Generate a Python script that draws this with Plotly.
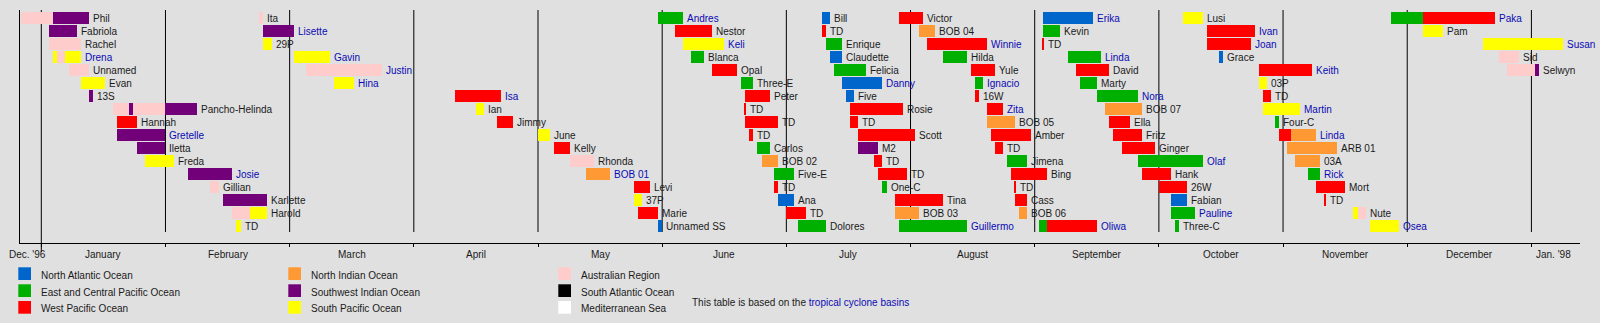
import calendar
import plotly.graph_objects as go

# ---------------- data ----------------
basin_keys = ["NATL", "EPAC", "WPAC", "NIO", "SWIO", "SPAC", "AUS", "SATL", "MED"]
basin_names = ["North Atlantic Ocean", "East and Central Pacific Ocean", "West Pacific Ocean",
               "North Indian Ocean", "Southwest Indian Ocean", "South Pacific Ocean",
               "Australian Region", "South Atlantic Ocean", "Mediterranean Sea"]
basin_colors = ["#0066cc", "#00b000", "#ff0000", "#ff9933", "#720078", "#ffff00",
                "#ffcccc", "#000000", "#ffffff"]

month_labels = ["Dec. '96", "January", "February", "March", "April", "May", "June", "July",
                "August", "September", "October", "November", "December", "Jan. '98"]

storm_names = [
    # row 1
    "Phil", "Ita", "Andres", "Bill", "Victor", "Erika", "Lusi", "Paka",
    # row 2
    "Fabriola", "Lisette", "Nestor", "TD", "BOB 04", "Kevin", "Ivan", "Pam",
    # row 3
    "Rachel", "29P", "Keli", "Enrique", "Winnie", "TD", "Joan", "Susan",
    # row 4
    "Drena", "Gavin", "Blanca", "Claudette", "Hilda", "Linda", "Grace", "Sid",
    # row 5
    "Unnamed", "Justin", "Opal", "Felicia", "Yule", "David", "Keith", "Selwyn",
    # row 6
    "Evan", "Hina", "Three-E", "Danny", "Ignacio", "Marty", "03P",
    # row 7
    "13S", "Isa", "Peter", "Five", "16W", "Nora", "TD",
    # row 8
    "Pancho-Helinda", "Ian", "TD", "Rosie", "Zita", "BOB 07", "Martin",
    # row 9
    "Hannah", "Jimmy", "TD", "TD", "BOB 05", "Ella", "Four-C",
    # row 10
    "Gretelle", "June", "TD", "Scott", "Amber", "Fritz", "Linda",
    # row 11
    "Iletta", "Kelly", "Carlos", "M2", "TD", "Ginger", "ARB 01",
    # row 12
    "Freda", "Rhonda", "BOB 02", "TD", "Jimena", "Olaf", "03A",
    # row 13
    "Josie", "BOB 01", "Five-E", "TD", "Bing", "Hank", "Rick",
    # row 14
    "Gillian", "Levi", "TD", "One-C", "TD", "26W", "Mort",
    # row 15
    "Karlette", "37P", "Ana", "Tina", "Cass", "Fabian", "TD",
    # row 16
    "Harold", "Marie", "TD", "BOB 03", "BOB 06", "Pauline", "Nute",
    # row 17
    "TD", "Unnamed SS", "Dolores", "Guillermo", "Oliwa", "Three-C", "Osea",
]

storm_rows = ([1] * 8 + [2] * 8 + [3] * 8 + [4] * 8 + [5] * 8 + [6] * 7 + [7] * 7 + [8] * 7 +
              [9] * 7 + [10] * 7 + [11] * 7 + [12] * 7 + [13] * 7 + [14] * 7 + [15] * 7 +
              [16] * 7 + [17] * 7)

linked_names = {"Andres", "Erika", "Paka", "Lisette", "Ivan", "Keli", "Winnie", "Joan",
                "Susan", "Drena", "Gavin", "Linda", "Justin", "Keith", "Hina", "Danny",
                "Ignacio", "Isa", "Nora", "Zita", "Martin", "Gretelle", "Olaf", "Josie",
                "BOB 01", "Rick", "Pauline", "Guillermo", "Oliwa", "Osea"}

storm_segments = [
    # row 1
    [("1996-12-27", "1997-01-04", "AUS"), ("1997-01-04", "1997-01-13", "SWIO")],
    [("1997-02-22", "1997-02-23", "AUS")],
    [("1997-05-31", "1997-06-06", "EPAC")],
    [("1997-07-10", "1997-07-12", "NATL")],
    [("1997-07-29", "1997-08-04", "WPAC")],
    [("1997-09-03", "1997-09-15", "NATL")],
    [("1997-10-07", "1997-10-12", "SPAC")],
    [("1997-11-27", "1997-12-05", "EPAC"), ("1997-12-05", "1997-12-23", "WPAC")],
    # row 2
    [("1997-01-03", "1997-01-10", "SWIO")],
    [("1997-02-23", "1997-03-02", "SWIO")],
    [("1997-06-04", "1997-06-13", "WPAC")],
    [("1997-07-10", "1997-07-11", "WPAC")],
    [("1997-08-03", "1997-08-07", "NIO")],
    [("1997-09-03", "1997-09-07", "EPAC")],
    [("1997-10-13", "1997-10-25", "WPAC")],
    [("1997-12-05", "1997-12-10", "SPAC")],
    # row 3
    [("1997-01-03", "1997-01-11", "AUS")],
    [("1997-02-23", "1997-02-25", "SPAC")],
    [("1997-06-06", "1997-06-16", "SPAC")],
    [("1997-07-11", "1997-07-15", "EPAC")],
    [("1997-08-05", "1997-08-20", "WPAC")],
    [("1997-09-03", "1997-09-03", "WPAC")],
    [("1997-10-13", "1997-10-24", "WPAC")],
    [("1997-12-20", "1998-01-09", "SPAC")],
    # row 4
    [("1997-01-04", "1997-01-05", "SPAC"), ("1997-01-05", "1997-01-07", "AUS"),
     ("1997-01-07", "1997-01-11", "SPAC")],
    [("1997-03-02", "1997-03-11", "SPAC")],
    [("1997-06-08", "1997-06-11", "EPAC")],
    [("1997-07-12", "1997-07-15", "NATL")],
    [("1997-08-09", "1997-08-15", "EPAC")],
    [("1997-09-09", "1997-09-17", "EPAC")],
    [("1997-10-16", "1997-10-17", "NATL")],
    [("1997-12-24", "1997-12-29", "AUS")],
    # row 5
    [("1997-01-08", "1997-01-13", "AUS")],
    [("1997-03-05", "1997-03-24", "AUS")],
    [("1997-06-13", "1997-06-19", "WPAC")],
    [("1997-07-13", "1997-07-21", "EPAC")],
    [("1997-08-16", "1997-08-22", "WPAC")],
    [("1997-09-11", "1997-09-19", "WPAC")],
    [("1997-10-26", "1997-11-08", "WPAC")],
    [("1997-12-26", "1998-01-02", "AUS"), ("1998-01-02", "1998-01-03", "SWIO")],
    # row 6
    [("1997-01-11", "1997-01-17", "SPAC")],
    [("1997-03-12", "1997-03-17", "SPAC")],
    [("1997-06-20", "1997-06-23", "EPAC")],
    [("1997-07-15", "1997-07-25", "NATL")],
    [("1997-08-17", "1997-08-19", "EPAC")],
    [("1997-09-12", "1997-09-16", "EPAC")],
    [("1997-10-26", "1997-10-28", "SPAC")],
    # row 7
    [("1997-01-13", "1997-01-14", "SWIO")],
    [("1997-04-11", "1997-04-22", "WPAC")],
    [("1997-06-21", "1997-06-27", "WPAC")],
    [("1997-07-16", "1997-07-18", "NATL")],
    [("1997-08-17", "1997-08-18", "WPAC")],
    [("1997-09-16", "1997-09-26", "EPAC")],
    [("1997-10-27", "1997-10-29", "WPAC")],
    # row 8
    [("1997-01-19", "1997-01-23", "AUS"), ("1997-01-23", "1997-01-24", "SWIO"),
     ("1997-01-24", "1997-02-01", "AUS"), ("1997-02-01", "1997-02-08", "SWIO")],
    [("1997-04-16", "1997-04-18", "SPAC")],
    [("1997-06-21", "1997-06-21", "WPAC")],
    [("1997-07-17", "1997-07-30", "WPAC")],
    [("1997-08-20", "1997-08-24", "WPAC")],
    [("1997-09-18", "1997-09-27", "NIO")],
    [("1997-10-27", "1997-11-05", "SPAC")],
    # row 9
    [("1997-01-20", "1997-01-25", "WPAC")],
    [("1997-04-21", "1997-04-25", "WPAC")],
    [("1997-06-21", "1997-06-29", "WPAC")],
    [("1997-07-17", "1997-07-19", "WPAC")],
    [("1997-08-20", "1997-08-27", "NIO")],
    [("1997-09-19", "1997-09-24", "WPAC")],
    [("1997-10-30", "1997-10-31", "EPAC")],
    # row 10
    [("1997-01-20", "1997-02-01", "SWIO")],
    [("1997-05-01", "1997-05-04", "SPAC")],
    [("1997-06-22", "1997-06-23", "WPAC")],
    [("1997-07-19", "1997-08-02", "WPAC")],
    [("1997-08-21", "1997-08-31", "WPAC")],
    [("1997-09-20", "1997-09-27", "WPAC")],
    [("1997-10-31", "1997-11-03", "WPAC"), ("1997-11-03", "1997-11-09", "NIO")],
    # row 11
    [("1997-01-25", "1997-02-01", "SWIO")],
    [("1997-05-05", "1997-05-09", "WPAC")],
    [("1997-06-24", "1997-06-27", "EPAC")],
    [("1997-07-19", "1997-07-24", "SWIO")],
    [("1997-08-22", "1997-08-24", "WPAC")],
    [("1997-09-22", "1997-09-30", "WPAC")],
    [("1997-11-02", "1997-11-14", "NIO")],
    # row 12
    [("1997-01-27", "1997-02-03", "SPAC")],
    [("1997-05-09", "1997-05-15", "AUS")],
    [("1997-06-25", "1997-06-29", "NIO")],
    [("1997-07-23", "1997-07-25", "WPAC")],
    [("1997-08-25", "1997-08-30", "EPAC")],
    [("1997-09-26", "1997-10-12", "EPAC")],
    [("1997-11-04", "1997-11-10", "NIO")],
    # row 13
    [("1997-02-06", "1997-02-16", "SWIO")],
    [("1997-05-13", "1997-05-19", "NIO")],
    [("1997-06-28", "1997-07-03", "EPAC")],
    [("1997-07-24", "1997-07-31", "WPAC")],
    [("1997-08-26", "1997-09-04", "WPAC")],
    [("1997-09-27", "1997-10-04", "WPAC")],
    [("1997-11-07", "1997-11-10", "EPAC")],
    # row 14
    [("1997-02-11", "1997-02-13", "AUS")],
    [("1997-05-25", "1997-05-29", "WPAC")],
    [("1997-06-28", "1997-06-29", "WPAC")],
    [("1997-07-25", "1997-07-26", "EPAC")],
    [("1997-08-27", "1997-08-27", "WPAC")],
    [("1997-10-01", "1997-10-08", "WPAC")],
    [("1997-11-09", "1997-11-16", "WPAC")],
    # row 15
    [("1997-02-14", "1997-02-24", "SWIO")],
    [("1997-05-25", "1997-05-27", "SPAC")],
    [("1997-06-29", "1997-07-03", "NATL")],
    [("1997-07-28", "1997-08-09", "WPAC")],
    [("1997-08-27", "1997-08-30", "WPAC")],
    [("1997-10-04", "1997-10-08", "NATL")],
    [("1997-11-11", "1997-11-11", "WPAC")],
    # row 16
    [("1997-02-16", "1997-02-20", "AUS"), ("1997-02-20", "1997-02-24", "SPAC")],
    [("1997-05-26", "1997-05-31", "WPAC")],
    [("1997-07-01", "1997-07-06", "WPAC")],
    [("1997-07-28", "1997-08-03", "NIO")],
    [("1997-08-28", "1997-08-30", "NIO")],
    [("1997-10-04", "1997-10-10", "EPAC")],
    [("1997-11-18", "1997-11-19", "SPAC"), ("1997-11-19", "1997-11-21", "AUS")],
    # row 17
    [("1997-02-17", "1997-02-18", "SPAC")],
    [("1997-05-31", "1997-06-01", "NATL")],
    [("1997-07-04", "1997-07-11", "EPAC")],
    [("1997-07-29", "1997-08-15", "EPAC")],
    [("1997-09-02", "1997-09-04", "EPAC"), ("1997-09-04", "1997-09-16", "WPAC")],
    [("1997-10-05", "1997-10-06", "EPAC")],
    [("1997-11-22", "1997-11-29", "SPAC")],
]

note_text = "This table is based on the "
note_link = "tropical cyclone basins"


# ---------------- helpers ----------------
def mpos(s):
    """Date -> position in month units (Jan 1 1997 = 0, each month one unit)."""
    y, m, d = map(int, s.split("-"))
    nd = calendar.monthrange(y, m)[1]
    return (y - 1997) * 12 + (m - 1) + (d - 1) / nd


W, H = 1600, 323
ML, MR, MT, MB = 20, 20, 10, 80
PW, PH = W - ML - MR, H - MT - MB
X0, X1 = -0.1715, 12.3913          # axis range (month units)
Y_BOTTOM, Y_TOP = 18.3077, 0.3846  # reversed row axis


def px_x(px):
    return (px - ML) / PW


def px_y(py):
    return (H - MB - py) / PH


FONT = "Liberation Sans, Arial, sans-serif"
LINK = "#0a0ab4"
TXT = "#1a1a1a"
color_of = dict(zip(basin_keys, basin_colors))

fig = go.Figure()

# bars, one trace per basin
for key in basin_keys:
    ys, bases, widths = [], [], []
    for row, segs in zip(storm_rows, storm_segments):
        for s, e, b in segs:
            if b != key:
                continue
            a, z = mpos(s), mpos(e)
            ys.append(row)
            bases.append(a)
            widths.append(max(z - a, 0.009))
    if ys:
        fig.add_trace(go.Bar(y=ys, x=widths, base=bases, orientation="h",
                             width=12 / 13, marker=dict(color=color_of[key], line=dict(width=0)),
                             showlegend=False, hoverinfo="skip"))

annotations = []
# storm labels
for name, row, segs in zip(storm_names, storm_rows, storm_segments):
    end = max(mpos(segs[-1][1]), mpos(segs[-1][0]) + 0.009)
    annotations.append(dict(x=end, y=row, xref="x", yref="y", text=name, showarrow=False,
                            xanchor="left", yanchor="middle", xshift=2,
                            font=dict(size=10, family=FONT,
                                      color=LINK if name in linked_names else TXT)))

# month labels
label_pos = [-0.115] + [k + 0.5 for k in range(12)] + [12.18]
for lab, xp in zip(month_labels, label_pos):
    annotations.append(dict(x=xp, y=px_y(254), xref="x", yref="paper", text=lab,
                            showarrow=False, xanchor="center", yanchor="middle",
                            font=dict(size=10, family=FONT, color=TXT)))

shapes = []
# month separator lines
for k in range(13):
    y0 = px_y(252) if k == 0 else px_y(232)
    shapes.append(dict(type="line", xref="x", yref="paper", x0=k, x1=k, y0=y0, y1=1,
                       line=dict(color="black", width=1), layer="below"))

# legend
col_x = [18.3, 288.3, 558.3]
row_y = [267.3, 284.3, 301.0]
for i, (nm, col) in enumerate(zip(basin_names, basin_colors)):
    cx, ry = col_x[i // 3], row_y[i % 3]
    shapes.append(dict(type="rect", xref="paper", yref="paper",
                       x0=px_x(cx), x1=px_x(cx + 12.7), y0=px_y(ry + 12.7), y1=px_y(ry),
                       fillcolor=col, line=dict(width=0)))
    annotations.append(dict(x=px_x(cx + 21), y=px_y(ry + 7.8), xref="paper", yref="paper",
                            text=nm, showarrow=False, xanchor="left", yanchor="middle",
                            font=dict(size=10, family=FONT, color=TXT)))

annotations.append(dict(x=px_x(689.5), y=px_y(302.3), xref="paper", yref="paper",
                        text=note_text + f"<span style='color:{LINK}'>{note_link}</span>",
                        showarrow=False, xanchor="left", yanchor="middle",
                        font=dict(size=10, family=FONT, color=TXT)))

fig.update_layout(
    width=W, height=H,
    margin=dict(l=ML, r=MR, t=MT, b=MB, pad=0),
    paper_bgcolor="#e0e0e0", plot_bgcolor="#e0e0e0",
    barmode="overlay", bargap=0,
    showlegend=False,
    shapes=shapes, annotations=annotations,
    xaxis=dict(range=[X0, X1], showgrid=False, zeroline=False, showline=True,
               linecolor="black", linewidth=1, ticks="outside", ticklen=3,
               tickcolor="black", tickvals=list(range(13)), showticklabels=False,
               fixedrange=True),
    yaxis=dict(range=[Y_BOTTOM, Y_TOP], showgrid=False, zeroline=False, showline=True,
               linecolor="black", linewidth=1, showticklabels=False, ticks="",
               fixedrange=True),
)

fig.write_html("out.html", config={"displayModeBar": False})
